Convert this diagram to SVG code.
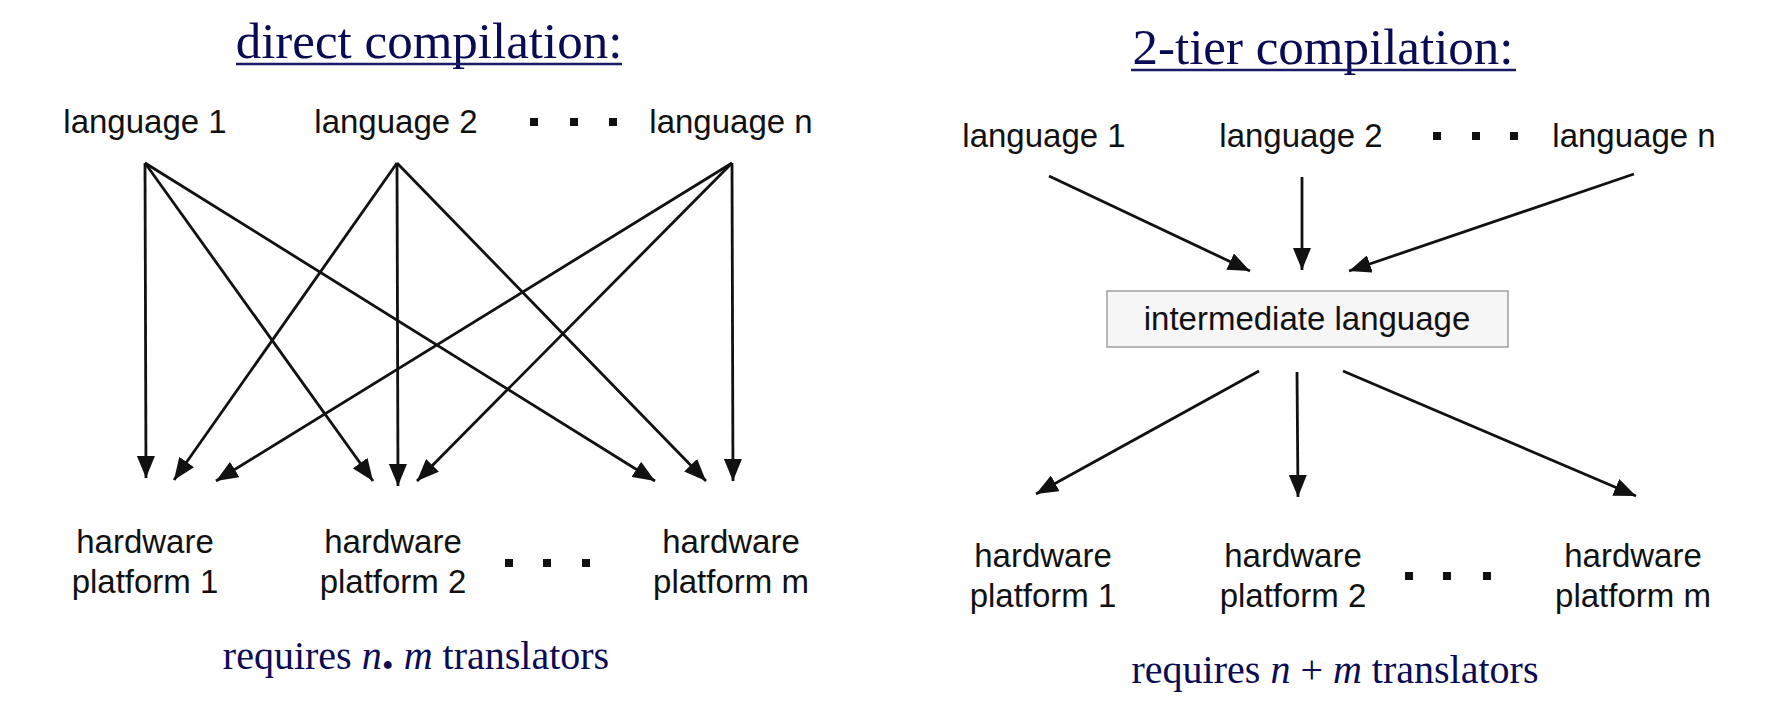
<svg xmlns="http://www.w3.org/2000/svg" width="1781" height="712" viewBox="0 0 1781 712">
<defs>
<style>
.title{font-family:"Liberation Serif","Times New Roman",serif;font-size:51px;fill:#0b0b55;text-anchor:middle}
.uline{stroke:#1a1a66;stroke-width:2.5}
.lbl{font-family:"Liberation Sans",Arial,sans-serif;font-size:33px;fill:#111;text-anchor:middle}
.req{font-family:"Liberation Serif","Times New Roman",serif;font-size:40px;fill:#0b0b55;text-anchor:middle}
.dot{fill:#111}
.arr{stroke:#111;stroke-width:2.8;fill:none;marker-end:url(#ah)}
</style>
<marker id="ah" viewBox="0 0 22 18" refX="22" refY="9" markerWidth="22" markerHeight="18" markerUnits="userSpaceOnUse" orient="auto">
<path d="M0,0 L22,9 L0,18 z" fill="#111"/>
</marker>
</defs>
<rect width="1781" height="712" fill="#ffffff"/>

<g id="left-title">
<text class="title" x="429" y="58">direct compilation:</text>
<line class="uline" x1="236" y1="64" x2="622" y2="64"/>
</g>
<g id="right-title">
<text class="title" x="1323" y="64">2-tier compilation:</text>
<line class="uline" x1="1131" y1="70" x2="1516" y2="70"/>
</g>

<g id="L-lang1"><text class="lbl" x="145" y="133">language 1</text></g>
<g id="L-lang2"><text class="lbl" x="396" y="133">language 2</text></g>
<g id="L-langdots"><rect class="dot" x="530" y="118" width="8" height="8"/><rect class="dot" x="570" y="118" width="8" height="8"/><rect class="dot" x="609" y="118" width="8" height="8"/></g>
<g id="L-langn"><text class="lbl" x="731" y="133">language n</text></g>

<g id="L-hw1"><text class="lbl" x="145" y="553">hardware</text><text class="lbl" x="145" y="593">platform 1</text></g>
<g id="L-hw2"><text class="lbl" x="393" y="553">hardware</text><text class="lbl" x="393" y="593">platform 2</text></g>
<g id="L-hwdots"><rect class="dot" x="505" y="559" width="8" height="8"/><rect class="dot" x="543" y="559" width="8" height="8"/><rect class="dot" x="582" y="559" width="8" height="8"/></g>
<g id="L-hwm"><text class="lbl" x="731" y="553">hardware</text><text class="lbl" x="731" y="593">platform m</text></g>
<g id="L-req"><text class="req" x="416" y="669">requires <tspan font-style="italic">n</tspan><tspan font-weight="bold" font-size="48">.</tspan> <tspan font-style="italic">m</tspan> translators</text></g>

<g id="R-lang1"><text class="lbl" x="1044" y="147">language 1</text></g>
<g id="R-lang2"><text class="lbl" x="1301" y="147">language 2</text></g>
<g id="R-langdots"><rect class="dot" x="1433" y="132" width="8" height="8"/><rect class="dot" x="1472" y="132" width="8" height="8"/><rect class="dot" x="1510" y="132" width="8" height="8"/></g>
<g id="R-langn"><text class="lbl" x="1634" y="147">language n</text></g>

<g id="R-inter">
<rect x="1107" y="291" width="401" height="56" fill="#f6f6f6" stroke="#a0a0a0" stroke-width="1.5"/>
<text class="lbl" x="1307" y="330">intermediate language</text>
</g>

<g id="R-hw1"><text class="lbl" x="1043" y="567">hardware</text><text class="lbl" x="1043" y="607">platform 1</text></g>
<g id="R-hw2"><text class="lbl" x="1293" y="567">hardware</text><text class="lbl" x="1293" y="607">platform 2</text></g>
<g id="R-hwdots"><rect class="dot" x="1405" y="572" width="8" height="8"/><rect class="dot" x="1443" y="572" width="8" height="8"/><rect class="dot" x="1483" y="572" width="8" height="8"/></g>
<g id="R-hwm"><text class="lbl" x="1633" y="567">hardware</text><text class="lbl" x="1633" y="607">platform m</text></g>
<g id="R-req"><text class="req" x="1335" y="683">requires <tspan font-style="italic">n</tspan> + <tspan font-style="italic">m</tspan> translators</text></g>

<g id="connectors">
<line class="arr" x1="145" y1="163" x2="146" y2="478"/>
<line class="arr" x1="145" y1="163" x2="373" y2="481"/>
<line class="arr" x1="145" y1="163" x2="655" y2="481"/>
<line class="arr" x1="397" y1="163" x2="174" y2="480"/>
<line class="arr" x1="397" y1="163" x2="398" y2="486"/>
<line class="arr" x1="397" y1="163" x2="706" y2="481"/>
<line class="arr" x1="732" y1="163" x2="216" y2="481"/>
<line class="arr" x1="732" y1="163" x2="417" y2="481"/>
<line class="arr" x1="732" y1="163" x2="733" y2="481"/>
<line class="arr" x1="1049" y1="176" x2="1250" y2="271"/>
<line class="arr" x1="1302" y1="177" x2="1302" y2="270"/>
<line class="arr" x1="1634" y1="174" x2="1349" y2="271"/>
<line class="arr" x1="1259" y1="371" x2="1036" y2="494"/>
<line class="arr" x1="1297" y1="372" x2="1298" y2="497"/>
<line class="arr" x1="1343" y1="371" x2="1636" y2="496"/>
</g>
</svg>
